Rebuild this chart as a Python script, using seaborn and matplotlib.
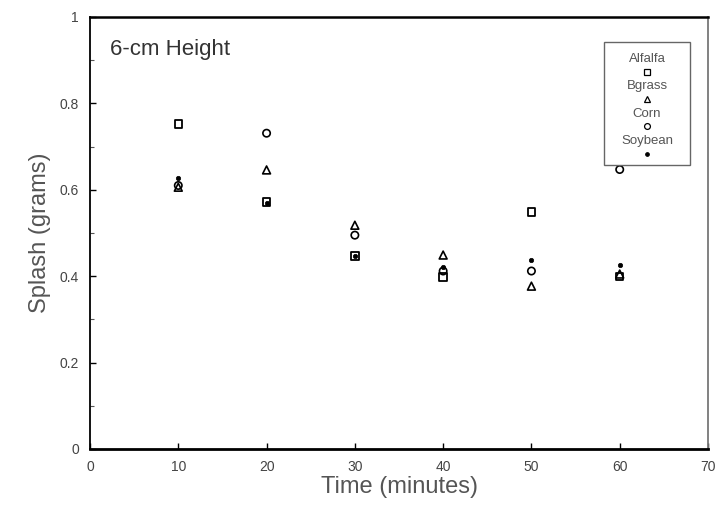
import matplotlib
matplotlib.use("Agg")
import matplotlib.pyplot as plt
import seaborn as sns
import pandas as pd
from matplotlib.offsetbox import AnchoredOffsetbox, VPacker, TextArea, DrawingArea
from matplotlib.lines import Line2D
from matplotlib.ticker import MultipleLocator

# ---- data ----
time = [10, 20, 30, 40, 50, 60]
alfalfa = [0.752, 0.572, 0.447, 0.398, 0.549, 0.400]
bgrass = [0.606, 0.646, 0.518, 0.449, 0.377, 0.405]
corn = [0.610, 0.731, 0.495, 0.412, 0.412, 0.647]
soybean = [0.627, 0.570, 0.447, 0.422, 0.437, 0.425]
series_names = ["Alfalfa", "Bgrass", "Corn", "Soybean"]
x_ticks = [0, 10, 20, 30, 40, 50, 60, 70]
y_ticks = [0, 0.2, 0.4, 0.6, 0.8, 1]
y_tick_labels = ["0", "0.2", "0.4", "0.6", "0.8", "1"]

sns.set_theme(style="ticks")
plt.rcParams["font.family"] = ["Liberation Sans", "DejaVu Sans"]

fig = plt.figure(figsize=(7.26, 5.12), dpi=100)
ax = fig.add_axes([90 / 726, 1 - 449 / 512, (708 - 90) / 726, (449 - 17) / 512])

styles = {
    "Alfalfa": dict(marker="s", s=28, facecolor="none", edgecolor="black", linewidth=1.3),
    "Bgrass": dict(marker="^", s=32, facecolor="none", edgecolor="black", linewidth=1.2),
    "Corn": dict(marker="o", s=28, facecolor="none", edgecolor="black", linewidth=1.2),
    "Soybean": dict(marker="o", s=10, facecolor="black", edgecolor="black", linewidth=0.5),
}
values = {"Alfalfa": alfalfa, "Bgrass": bgrass, "Corn": corn, "Soybean": soybean}

for name in series_names:
    df = pd.DataFrame({"Time": time, "Splash": values[name]})
    sns.scatterplot(data=df, x="Time", y="Splash", ax=ax, legend=False, zorder=3, **styles[name])

ax.set_xlim(0, 70)
ax.set_ylim(0, 1)
ax.set_xticks(x_ticks)
ax.set_yticks(y_ticks)
ax.set_yticklabels(y_tick_labels)
ax.yaxis.set_minor_locator(MultipleLocator(0.1))
ax.tick_params(axis="both", which="major", direction="in", length=4, width=1,
               labelsize=10, labelcolor="#444444", color="black", pad=8)
ax.tick_params(axis="y", which="minor", direction="in", length=3, width=0.8, color="#555555")
for sp in ax.spines.values():
    sp.set_color("black")
    sp.set_linewidth(1.3)
ax.spines["bottom"].set_linewidth(2.0)
ax.spines["right"].set_color("#777777")
ax.spines["top"].set_linewidth(1.8)

ax.set_xlabel("Time (minutes)", fontsize=17, color="#555555", labelpad=1)
ax.set_ylabel("Splash (grams)", fontsize=17, color="#555555", labelpad=6)

ax.text(0.033, 0.925, "6-cm Height", transform=ax.transAxes, fontsize=16,
        color="#333333", ha="left", va="center")

# custom legend: label above marker
rows = [DrawingArea(52, 0, 0, 0)]
for name in series_names:
    st = styles[name]
    ta = TextArea(name, textprops=dict(fontsize=9.5, color="#555555"))
    da = DrawingArea(10, 6.5, 0, 0)
    ms = 4.2 if name != "Soybean" else 2.5
    mk = Line2D([5], [3.25], marker=st["marker"], markersize=ms,
                markerfacecolor=st["facecolor"], markeredgecolor="black",
                markeredgewidth=0.9, linestyle="none")
    da.add_artist(mk)
    rows.append(VPacker(children=[ta, da], align="center", pad=0, sep=1.5))
pack = VPacker(children=rows, align="center", pad=0, sep=3)
anch = AnchoredOffsetbox(loc="upper right", child=pack, pad=0.5, frameon=True,
                         prop=dict(size=10),
                         bbox_to_anchor=((690 - 90) / 618, (449 - 42) / 432),
                         bbox_transform=ax.transAxes, borderpad=0)
anch.patch.set_edgecolor("#666666")
anch.patch.set_linewidth(1.0)
anch.zorder = 4
ax.add_artist(anch)

fig.savefig("out.png", dpi=100, facecolor="white")
